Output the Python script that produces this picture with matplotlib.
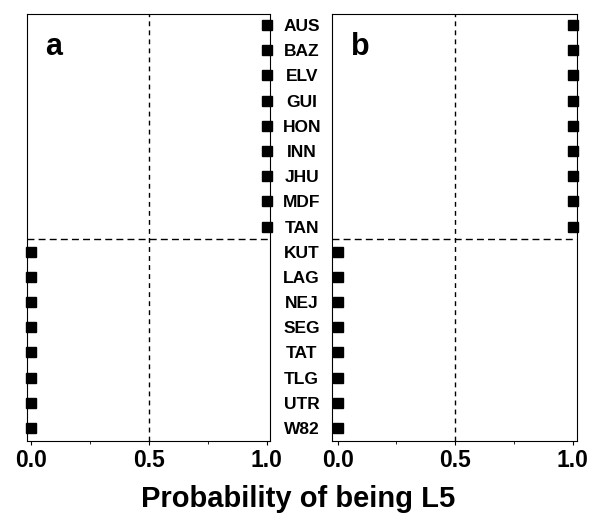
import numpy as np
import matplotlib
matplotlib.use("Agg")
import matplotlib.pyplot as plt

plt.rcParams['font.family'] = ['Liberation Sans', 'DejaVu Sans']
plt.rcParams['font.weight'] = 'bold'
plt.rcParams['lines.scale_dashes'] = False

# Sample names, top to bottom
samples = ['AUS', 'BAZ', 'ELV', 'GUI', 'HON', 'INN', 'JHU', 'MDF', 'TAN',
           'KUT', 'LAG', 'NEJ', 'SEG', 'TAT', 'TLG', 'UTR', 'W82']

# Probability of being L5 for each sample, panel a and panel b
prob_a = [1.0, 1.0, 1.0, 1.0, 1.0, 1.0, 1.0, 1.0, 1.0,
          0.0, 0.0, 0.0, 0.0, 0.0, 0.0, 0.0, 0.0]
prob_b = [1.0, 1.0, 1.0, 1.0, 1.0, 1.0, 1.0, 1.0, 1.0,
          0.0, 0.0, 0.0, 0.0, 0.0, 0.0, 0.0, 0.0]

panels = ['a', 'b']
xticks = [0.0, 0.5, 1.0]
xticklabels = ['0.0', '0.5', '1.0']
xlabel = 'Probability of being L5'

rows = np.arange(len(samples))
split = 8.5  # boundary between the two groups

fig = plt.figure(figsize=(5.97, 5.19), dpi=100)
ax_a = fig.add_axes([0.0447, 0.151, 0.4077, 0.822])
ax_b = fig.add_axes([0.5566, 0.151, 0.4094, 0.822])

for ax, vals, letter, xlim in [(ax_a, prob_a, panels[0], (-0.017, 1.014)),
                               (ax_b, prob_b, panels[1], (-0.023, 1.017))]:
    ax.plot(vals, rows, linestyle='none', marker='s', markersize=6.7,
            color='black', clip_on=False, zorder=3)
    ax.axvline(0.5, color='black', lw=1.0, dashes=(3.5, 3))
    ax.axhline(split, color='black', lw=1.0, dashes=(5, 3))
    ax.set_xlim(*xlim)
    ax.set_ylim(16.5, -0.44)
    ax.set_xticks(xticks)
    ax.set_xticklabels(xticklabels, fontsize=16.5, fontweight='bold')
    ax.set_xticks([0.25, 0.75], minor=True)
    ax.tick_params(axis='x', which='major', length=3, width=0.8, pad=3)
    ax.tick_params(axis='x', which='minor', length=2, width=0.6)
    ax.tick_params(axis='y', length=0)
    for sp in ax.spines.values():
        sp.set_linewidth(0.8)
    ax.text(0.075, 0.905, letter, transform=ax.transAxes, fontsize=22,
            fontweight='bold', ha='left', va='baseline')

ax_a.set_yticks([])
ax_b.set_yticks(rows)
ax_b.set_yticklabels(samples, fontsize=12.5, fontweight='bold', ha='center')
ax_b.tick_params(axis='y', pad=22)

fig.text(0.5, 0.023, xlabel, ha='center', va='baseline', fontsize=21,
         fontweight='bold')

fig.savefig('out.png', dpi=100)
